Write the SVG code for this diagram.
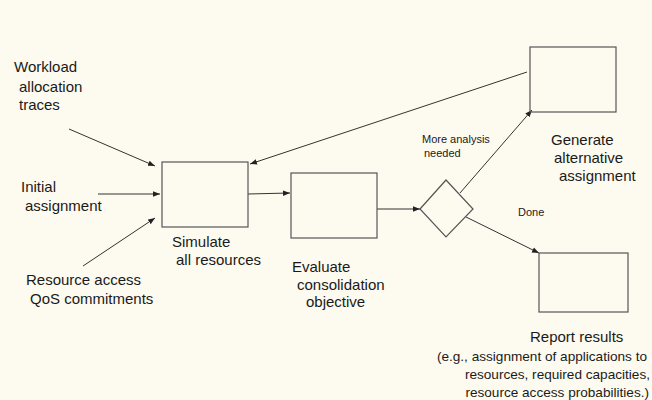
<svg xmlns="http://www.w3.org/2000/svg" width="652" height="400" viewBox="0 0 652 400">
<defs>
<marker id="ah" viewBox="0 0 10 10" refX="10" refY="5" markerWidth="7" markerHeight="7" markerUnits="userSpaceOnUse" orient="auto">
<path d="M0,1 L10,5 L0,9 Z" fill="#222"/>
</marker>
</defs>
<style>
.bg{fill:#FDFAF0}
.box{fill:none;stroke:#555;stroke-width:1.2}
.ln{fill:none;stroke:#333;stroke-width:1;marker-end:url(#ah)}
text{font-family:"Liberation Sans",Arial,sans-serif;fill:#1a1a1a}
.t{font-size:15px}
.s{font-size:11px}
.e{font-size:13.6px;text-anchor:end}
</style>
<rect class="bg" x="0" y="0" width="652" height="400"/>
<g id="connectors">
<line class="ln" x1="69" y1="129" x2="155" y2="166"/>
<line class="ln" x1="98" y1="194" x2="160" y2="194"/>
<line class="ln" x1="83" y1="266" x2="155" y2="218"/>
<line class="ln" x1="527" y1="72" x2="250" y2="164"/>
<line class="ln" x1="248" y1="194" x2="290" y2="193"/>
<line class="ln" x1="377" y1="209" x2="420" y2="209"/>
<line class="ln" x1="460" y1="193" x2="532" y2="110"/>
<line class="ln" x1="466" y1="217" x2="539" y2="253"/>
</g>
<g id="inputs">
<text class="t" x="14" y="72">Workload</text>
<text class="t" x="19" y="92">allocation</text>
<text class="t" x="19" y="110">traces</text>
<text class="t" x="21" y="192">Initial</text>
<text class="t" x="25" y="211">assignment</text>
<text class="t" x="26" y="285">Resource access</text>
<text class="t" x="30" y="304">QoS commitments</text>
</g>
<g id="simulate">
<rect class="box" x="162" y="162" width="86" height="65"/>
<text class="t" x="172" y="247">Simulate</text>
<text class="t" x="176" y="265">all resources</text>
</g>
<g id="evaluate">
<rect class="box" x="291" y="173" width="86" height="65"/>
<text class="t" x="292" y="272">Evaluate</text>
<text class="t" x="297" y="290">consolidation</text>
<text class="t" x="306" y="307">objective</text>
</g>
<g id="decision">
<polygon class="box" points="420,209 446,180 473,209 446,237"/>
<text class="s" x="422" y="143">More analysis</text>
<text class="s" x="424" y="157">needed</text>
<text class="s" x="518" y="216">Done</text>
</g>
<g id="generate">
<rect class="box" x="530" y="47" width="86" height="65"/>
<text class="t" x="551" y="145">Generate</text>
<text class="t" x="554" y="163">alternative</text>
<text class="t" x="559" y="181">assignment</text>
</g>
<g id="report">
<rect class="box" x="539" y="253" width="89" height="59"/>
<text class="t" x="530" y="342">Report results</text>
<text class="e" x="647" y="361">(e.g., assignment of applications to</text>
<text class="e" x="650" y="379">resources, required capacities,</text>
<text class="e" x="649" y="397">resource access probabilities.)</text>
</g>
</svg>
